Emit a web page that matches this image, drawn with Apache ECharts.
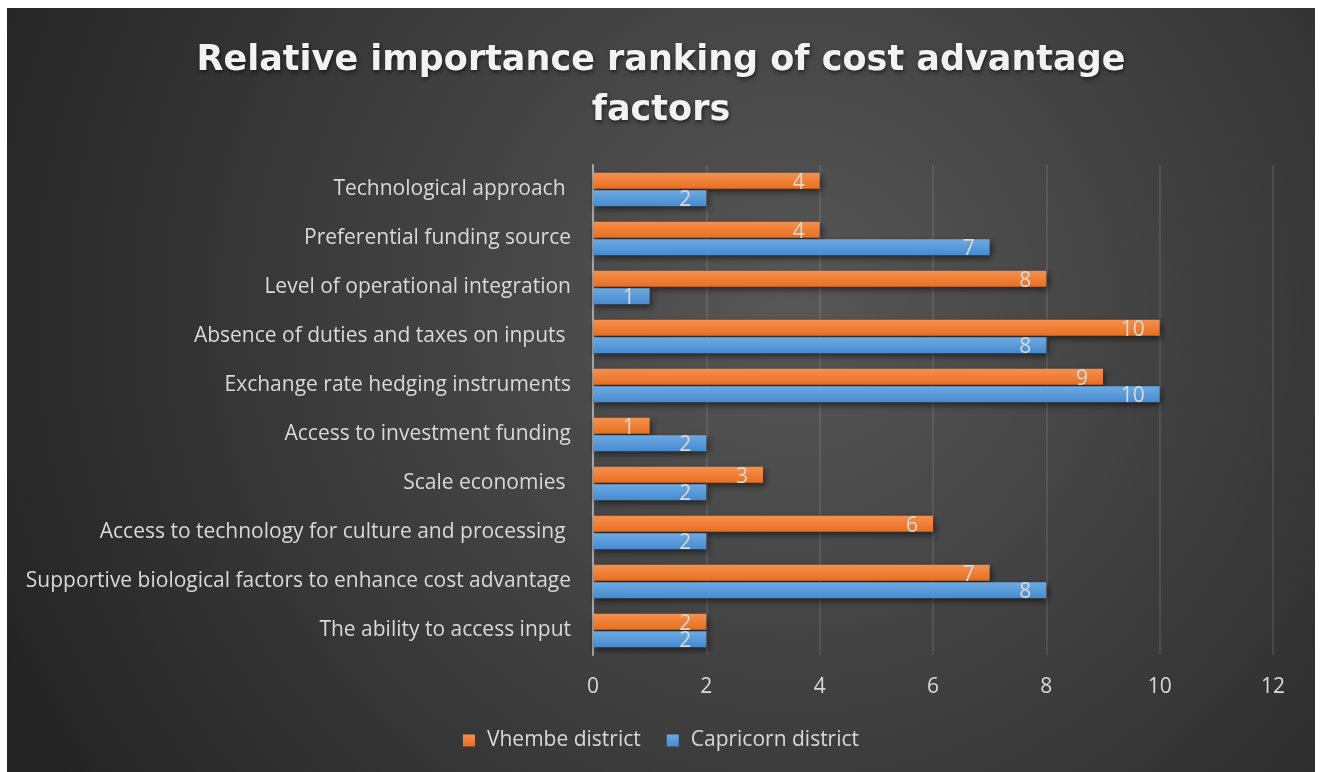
<!DOCTYPE html>
<html>
<head>
<meta charset="utf-8">
<script src="https://cdn.jsdelivr.net/npm/echarts@6/dist/echarts.min.js"></script>
<style>
  html, body { margin: 0; padding: 0; background: #fff; overflow: hidden; }
  #chart { position: absolute; left: 7px; top: 8px; width: 1308px; height: 790px; }
</style>
</head>
<body>
<div id="chart"></div>
<script>
// categories listed top to bottom
const categories = [
  'Technological approach ',
  'Preferential funding source',
  'Level of operational integration',
  'Absence of duties and taxes on inputs ',
  'Exchange rate hedging instruments',
  'Access to investment funding',
  'Scale economies ',
  'Access to technology for culture and processing ',
  'Supportive biological factors to enhance cost advantage',
  'The ability to access input'
]
const vhembe = [4, 4, 8, 10, 9, 1, 3, 6, 7, 2]
const capricorn = [2, 7, 1, 8, 10, 2, 2, 2, 8, 2]
const seriesNames = ['Vhembe district', 'Capricorn district']

const font = '"Open Sans", Lato, sans-serif'
const txt = '#d9d9d9'

function grad (top, bottom) {
  return new echarts.graphic.LinearGradient(0, 0, 0, 1, [
    { offset: 0, color: top },
    { offset: 1, color: bottom }
  ])
}

function barSeries (name, data, top, bottom) {
  return {
    name: name,
    type: 'bar',
    data: data,
    barWidth: 16,
    barGap: '8%',
    itemStyle: {
      color: grad(top, bottom),
      shadowColor: 'rgba(0,0,0,0.55)',
      shadowBlur: 6,
      shadowOffsetX: 2,
      shadowOffsetY: 3
    },
    label: {
      show: true,
      position: 'insideRight',
      distance: 15,
      color: txt,
      fontFamily: font,
      fontSize: 21,
      offset: [0, 2]
    }
  }
}

const chart = echarts.init(document.getElementById('chart'))
chart.setOption({
  animation: false,
  backgroundColor: new echarts.graphic.RadialGradient(0.6, 0.38, 1.1, [
    { offset: 0, color: '#575757' },
    { offset: 1, color: '#242424' }
  ]),
  title: {
    text: 'Relative importance ranking of cost advantage\nfactors',
    left: 'center',
    top: 23,
    textStyle: {
      color: '#f2f2f2',
      fontFamily: '"DejaVu Sans", sans-serif',
      fontWeight: 'bold',
      fontSize: 35,
      lineHeight: 50,
      textShadowColor: 'rgba(0,0,0,0.6)',
      textShadowBlur: 4,
      textShadowOffsetX: 1,
      textShadowOffsetY: 2
    }
  },
  legend: {
    data: seriesNames,
    top: 717,
    left: 'center',
    icon: 'rect',
    itemWidth: 12,
    itemHeight: 12,
    itemGap: 26,
    textStyle: { color: txt, fontFamily: font, fontSize: 21, padding: [0, 0, 0, 7] }
  },
  grid: {
    left: 586,
    right: 42,
    top: 157,
    height: 490,
    containLabel: false
  },
  xAxis: {
    type: 'value',
    min: 0,
    max: 12,
    interval: 2,
    axisLine: { show: false },
    axisTick: { show: false },
    axisLabel: { color: txt, fontFamily: font, fontSize: 21, margin: 22 },
    splitLine: { lineStyle: { color: 'rgba(255,255,255,0.13)', width: 1.5 } }
  },
  yAxis: {
    type: 'category',
    inverse: true,
    data: categories,
    axisTick: { show: false },
    axisLine: { lineStyle: { color: '#a6a6a6', width: 2 } },
    axisLabel: { color: txt, fontFamily: font, fontSize: 21, margin: 22, padding: [9, 0, 0, 0] }
  },
  series: [
    barSeries(seriesNames[0], vhembe, '#f4904f', '#e96f1f'),
    barSeries(seriesNames[1], capricorn, '#6eaae2', '#468bd0')
  ]
})
</script>
</body>
</html>
